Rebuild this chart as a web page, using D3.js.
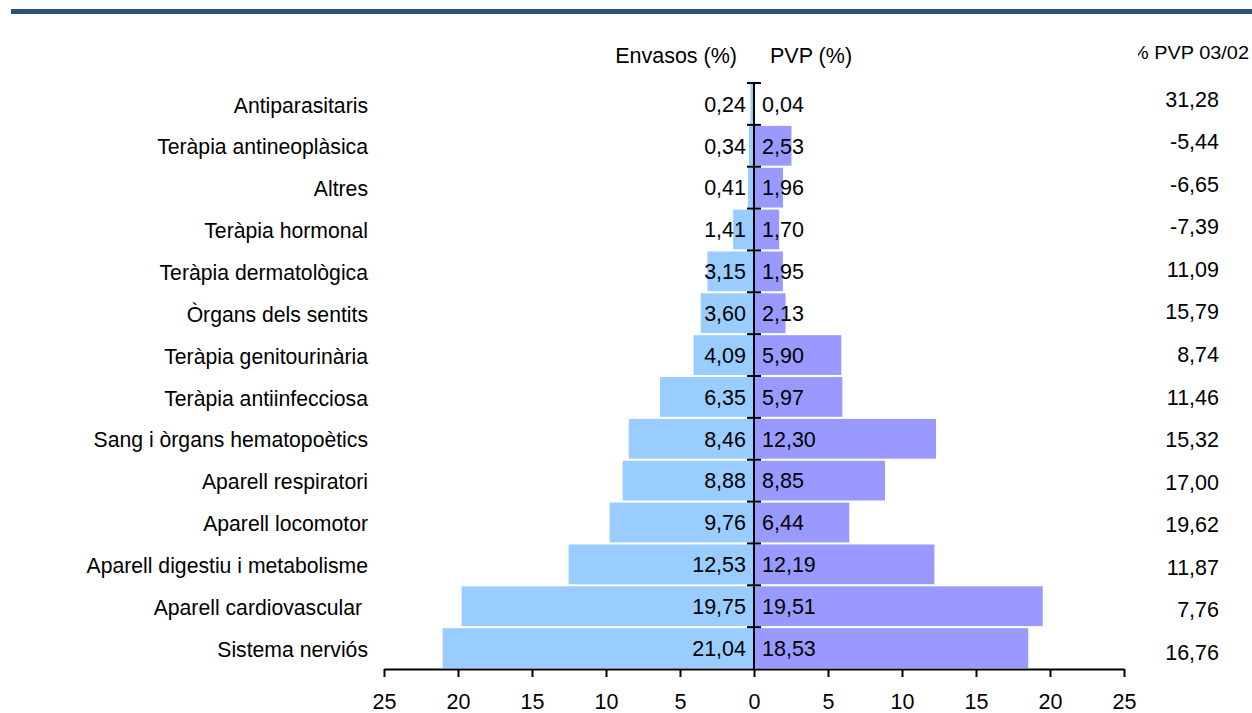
<!DOCTYPE html>
<html>
<head>
<meta charset="utf-8">
<script src="https://cdn.jsdelivr.net/npm/d3@7"></script>
<style>
  html, body { margin: 0; padding: 0; background: #fff; }
  svg { display: block; font-family: "Liberation Sans", Arial, sans-serif; }
</style>
</head>
<body>
<svg id="chart" width="1252" height="713"></svg>
<script>
// Therapeutic groups, top to bottom
const categories = [
  "Antiparasitaris",
  "Teràpia antineoplàsica",
  "Altres",
  "Teràpia hormonal",
  "Teràpia dermatològica",
  "Òrgans dels sentits",
  "Teràpia genitourinària",
  "Teràpia antiinfecciosa",
  "Sang i òrgans hematopoètics",
  "Aparell respiratori",
  "Aparell locomotor",
  "Aparell digestiu i metabolisme",
  "Aparell cardiovascular ",
  "Sistema nerviós"
];
// Share of packages (%)
const envasos = [0.24, 0.34, 0.41, 1.41, 3.15, 3.60, 4.09, 6.35, 8.46, 8.88, 9.76, 12.53, 19.75, 21.04];
// Share of retail price (%)
const pvp = [0.04, 2.53, 1.96, 1.70, 1.95, 2.13, 5.90, 5.97, 12.30, 8.85, 6.44, 12.19, 19.51, 18.53];
// Retail price change 2003/2002 (%)
const pvpChange = [31.28, -5.44, -6.65, -7.39, 11.09, 15.79, 8.74, 11.46, 15.32, 17.00, 19.62, 11.87, 7.76, 16.76];
// Axis ticks
const xTicks = [-25, -20, -15, -10, -5, 0, 5, 10, 15, 20, 25];

const fmt = v => v.toFixed(2).replace(".", ",");
const FONT = 21.5;
const CAT_FONT = 21.2;

const svg = d3.select("#chart");

// Header band
svg.append("rect")
  .attr("x", 11).attr("y", 9).attr("width", 1241).attr("height", 5)
  .attr("fill", "#2E5081");

const x = d3.scaleLinear().domain([-25, 25]).range([384, 1124]);
const y = d3.scaleBand().domain(categories).range([83, 669])
  .paddingInner(0.05).paddingOuter(0.025);
const yRight = d3.scaleBand().domain(categories).range([77.7, 673.3]);

const rows = categories.map((c, i) => ({ c, env: envasos[i], pvp: pvp[i], chg: pvpChange[i] }));

// Left bars: packages
svg.append("g").selectAll("rect").data(rows).join("rect")
  .attr("x", d => x(-d.env))
  .attr("y", d => y(d.c))
  .attr("width", d => x(0) - x(-d.env))
  .attr("height", y.bandwidth())
  .attr("fill", "#99CCFF");

// Right bars: retail price
svg.append("g").selectAll("rect").data(rows).join("rect")
  .attr("x", x(0))
  .attr("y", d => y(d.c))
  .attr("width", d => x(d.pvp) - x(0))
  .attr("height", y.bandwidth())
  .attr("fill", "#9999FF");

// Bottom axis
const xAxis = svg.append("g")
  .attr("transform", "translate(0,669)")
  .call(d3.axisBottom(x).tickValues(xTicks).tickFormat(d => Math.abs(d))
    .tickSize(8).tickSizeOuter(0).tickPadding(17));
xAxis.select(".domain").attr("stroke", "#000").attr("stroke-width", 2);
xAxis.selectAll(".tick line").attr("stroke", "#000").attr("stroke-width", 2);
xAxis.selectAll("text").attr("font-size", FONT).attr("fill", "#000")
  .attr("font-family", "Liberation Sans, Arial, sans-serif");

// Central vertical axis with crossing ticks at band boundaries
const step = y.step();
const boundaries = d3.range(categories.length + 1).map(i => y.range()[0] + i * step);
svg.append("line")
  .attr("x1", x(0)).attr("x2", x(0))
  .attr("y1", y.range()[0]).attr("y2", y.range()[1])
  .attr("stroke", "#000").attr("stroke-width", 2);
svg.append("g").selectAll("line").data(boundaries.slice(0, -1)).join("line")
  .attr("x1", x(0) - 7).attr("x2", x(0) + 7)
  .attr("y1", d => d).attr("y2", d => d)
  .attr("stroke", "#000").attr("stroke-width", 2);

// Category labels
svg.append("g").selectAll("text").data(rows).join("text")
  .attr("x", 368)
  .attr("y", d => y(d.c) + y.bandwidth() / 2 + 1)
  .attr("dy", "0.36em")
  .attr("text-anchor", "end")
  .attr("font-size", CAT_FONT)
  .attr("xml:space", "preserve")
  .style("white-space", "pre")
  .text(d => d.c);

// Value labels next to the central axis
svg.append("g").selectAll("text").data(rows).join("text")
  .attr("x", x(0) - 8)
  .attr("y", d => y(d.c) + y.bandwidth() / 2)
  .attr("dy", "0.36em")
  .attr("text-anchor", "end")
  .attr("font-size", FONT)
  .text(d => fmt(d.env));
svg.append("g").selectAll("text").data(rows).join("text")
  .attr("x", x(0) + 8)
  .attr("y", d => y(d.c) + y.bandwidth() / 2)
  .attr("dy", "0.36em")
  .attr("text-anchor", "start")
  .attr("font-size", FONT)
  .text(d => fmt(d.pvp));

// Year-on-year change column
svg.append("g").selectAll("text").data(rows).join("text")
  .attr("x", 1219)
  .attr("y", d => yRight(d.c) + yRight.bandwidth() / 2)
  .attr("dy", "0.36em")
  .attr("text-anchor", "end")
  .attr("font-size", FONT)
  .text(d => fmt(d.chg));

// Column headers
svg.append("text").attr("x", 737).attr("y", 63).attr("text-anchor", "end")
  .attr("font-size", FONT).text("Envasos (%)");
svg.append("text").attr("x", 770).attr("y", 63).attr("text-anchor", "start")
  .attr("font-size", FONT).text("PVP (%)");

svg.append("defs").append("clipPath").attr("id", "hdrClip")
  .append("rect").attr("x", 1138).attr("y", 30).attr("width", 120).attr("height", 40);
svg.append("text").attr("x", 1131).attr("y", 59)
  .attr("clip-path", "url(#hdrClip)")
  .attr("font-size", 19)
  .attr("textLength", 118).attr("lengthAdjust", "spacingAndGlyphs")
  .text("% PVP 03/02");
</script>
</body>
</html>
